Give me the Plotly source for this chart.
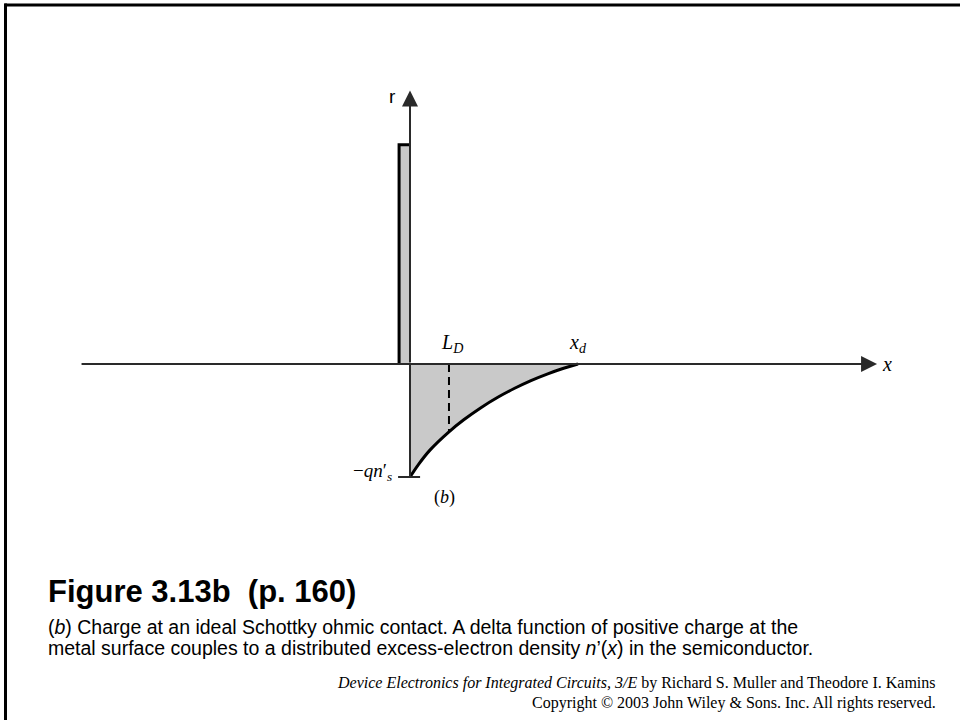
import plotly.graph_objects as go

# Charge profile n'(x) in normalised units (x / x_d, charge / q n'_s)
curve_x = [0.0, 0.05, 0.12, 0.232, 0.32, 0.42, 0.52, 0.62, 0.72, 0.82, 0.91, 1.0]
curve_y = [-1.0, -0.89, -0.76, -0.60, -0.494, -0.389, -0.297, -0.217, -0.147, -0.087, -0.040, 0.0]
debye_x = 0.232          # L_D
debye_y = -0.60
delta_width = 0.065      # width of the surface delta of positive charge
delta_height = 1.94
x_axis_span = [-1.964, 2.78]
y_axis_top = 2.42
tick_span = [-0.071, 0.06]

X_RANGE = [-2.4405, 3.2738]
Y_RANGE = [-3.1504, 3.2212]

AXIS_COL = "#2a2a2a"
FILL_COL = "#c9c9c9"

fig = go.Figure()

# shaded excess-electron distribution
fig.add_trace(go.Scatter(x=curve_x, y=curve_y, mode="lines", fill="tozeroy",
                         fillcolor=FILL_COL,
                         line=dict(color="black", width=3, shape="spline", smoothing=0.8),
                         hoverinfo="skip"))

# delta function of positive charge at the metal surface
fig.add_trace(go.Scatter(x=[-delta_width, -delta_width, 0, 0, -delta_width],
                         y=[0, delta_height, delta_height, 0, 0],
                         mode="lines", fill="toself", fillcolor=FILL_COL,
                         line=dict(color="rgba(0,0,0,0)", width=0), hoverinfo="skip"))
fig.add_trace(go.Scatter(x=[-delta_width, -delta_width, 0],
                         y=[0, delta_height, delta_height],
                         mode="lines", line=dict(color="black", width=3),
                         hoverinfo="skip"))

# L_D marker
fig.add_trace(go.Scatter(x=[debye_x, debye_x], y=[0, debye_y], mode="lines",
                         line=dict(color="black", width=2, dash="8px,5px"),
                         hoverinfo="skip"))

# -q n'_s tick
fig.add_trace(go.Scatter(x=tick_span, y=[curve_y[0], curve_y[0]], mode="lines",
                         line=dict(color=AXIS_COL, width=2), hoverinfo="skip"))

# left edge of the distribution
fig.add_trace(go.Scatter(x=[0, 0], y=[curve_y[0], 0], mode="lines",
                         line=dict(color=AXIS_COL, width=2), hoverinfo="skip"))

ann = []
# axes with arrows
ann.append(dict(x=x_axis_span[1], y=0, ax=x_axis_span[0], ay=0,
                xref="x", yref="y", axref="x", ayref="y", text="",
                showarrow=True, arrowhead=2, arrowsize=1.6, arrowwidth=2,
                arrowcolor=AXIS_COL))
ann.append(dict(x=0, y=y_axis_top, ax=0, ay=0,
                xref="x", yref="y", axref="x", ayref="y", text="",
                showarrow=True, arrowhead=2, arrowsize=1.6, arrowwidth=2,
                arrowcolor=AXIS_COL))

serif = "Liberation Serif, Times New Roman, serif"
sans = "Liberation Sans, Arial, sans-serif"

ann.append(dict(x=-0.107, y=2.37, xref="x", yref="y", text="r", showarrow=False,
                font=dict(family=sans, size=19, color="black")))
ann.append(dict(x=2.80, y=0.0, xref="x", yref="y", xanchor="left", text="<i>x</i>",
                showarrow=False, font=dict(family=serif, size=20, color="black")))
ann.append(dict(x=debye_x + 0.02, y=0.05, xref="x", yref="y", yanchor="bottom",
                text="<i>L</i><sub><i>D</i></sub>", showarrow=False,
                font=dict(family=serif, size=20, color="black")))
ann.append(dict(x=curve_x[-1], y=0.05, xref="x", yref="y", yanchor="bottom",
                text="<i>x</i><sub><i>d</i></sub>", showarrow=False,
                font=dict(family=serif, size=20, color="black")))
ann.append(dict(x=-0.095, y=-0.96, xref="x", yref="y", xanchor="right",
                text="\u2212<i>qn</i>\u2032<sub><i>s</i></sub>", showarrow=False,
                font=dict(family=serif, size=19, color="black")))
ann.append(dict(x=0.208, y=-1.18, xref="x", yref="y",
                text="(<i>b</i>)", showarrow=False,
                font=dict(family=serif, size=18, color="black")))

# caption block
ann.append(dict(x=46 / 960, y=1 - 591 / 720, xref="paper", yref="paper",
                xanchor="left", yanchor="middle",
                text="<b>Figure 3.13b\u00a0 (p. 160)</b>", showarrow=False,
                font=dict(family=sans, size=31, color="black")))
cap_font = dict(family=sans, size=19.5, color="black")
ann.append(dict(x=46 / 960, y=1 - 627 / 720, xref="paper", yref="paper",
                xanchor="left", yanchor="middle", showarrow=False, font=cap_font,
                text="(<i>b</i>) Charge at an ideal Schottky ohmic contact. A delta function of positive charge at the"))
ann.append(dict(x=46 / 960, y=1 - 648 / 720, xref="paper", yref="paper",
                xanchor="left", yanchor="middle", showarrow=False, font=cap_font,
                text="metal surface couples to a distributed excess-electron density <i>n</i>\u2019(<i>x</i>) in the semiconductor."))

foot_font = dict(family=serif, size=16, color="black")
ann.append(dict(x=938 / 960, y=1 - 683 / 720, xref="paper", yref="paper",
                xanchor="right", yanchor="middle", showarrow=False, font=foot_font,
                text="<i>Device Electronics for Integrated Circuits, 3/E</i> by Richard S. Muller and Theodore I. Kamins"))
ann.append(dict(x=938 / 960, y=1 - 703 / 720, xref="paper", yref="paper",
                xanchor="right", yanchor="middle", showarrow=False, font=foot_font,
                text="Copyright \u00a9 2003 John Wiley &amp; Sons. Inc. All rights reserved."))

# slide frame (top and left edges)
shapes = [
    dict(type="line", xref="paper", yref="paper", x0=4.5 / 960, x1=1, y0=1 - 5 / 720, y1=1 - 5 / 720,
         line=dict(color="black", width=3)),
    dict(type="line", xref="paper", yref="paper", x0=5.5 / 960, x1=5.5 / 960, y0=0, y1=1 - 3.5 / 720,
         line=dict(color="black", width=3)),
]

fig.update_layout(
    width=960, height=720,
    margin=dict(l=0, r=0, t=0, b=0),
    paper_bgcolor="white", plot_bgcolor="white",
    showlegend=False,
    xaxis=dict(range=X_RANGE, visible=False, fixedrange=True),
    yaxis=dict(range=Y_RANGE, visible=False, fixedrange=True),
    annotations=ann, shapes=shapes,
)

fig.write_html("out.html")
